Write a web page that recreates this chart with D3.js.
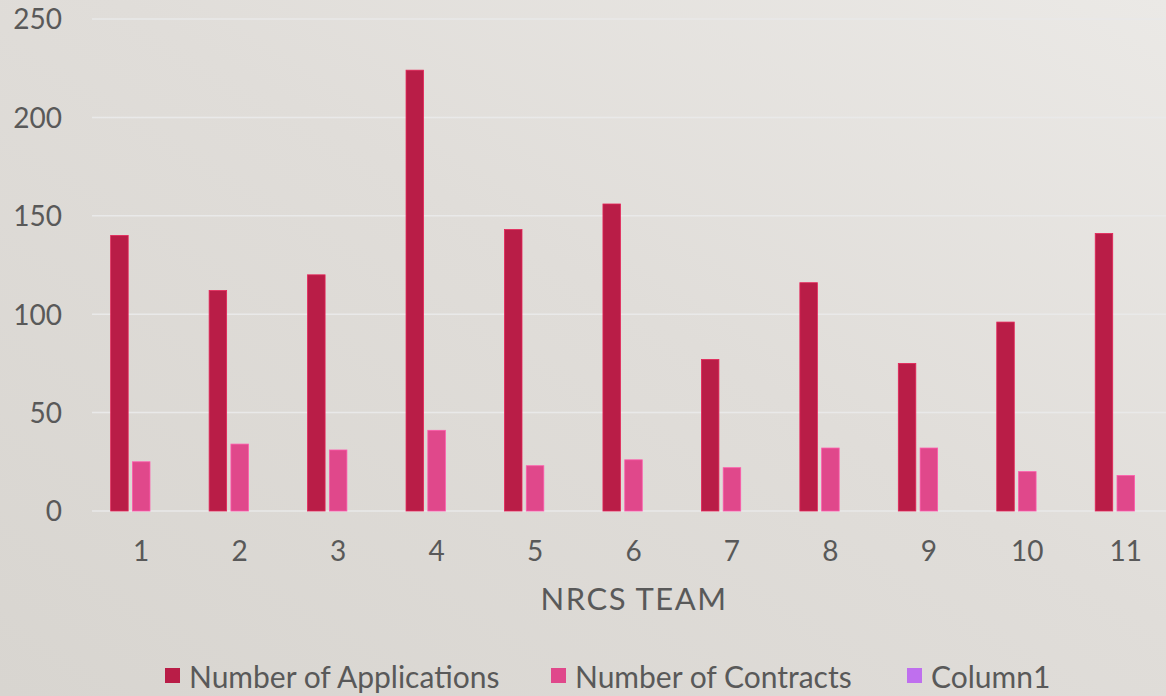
<!DOCTYPE html>
<html><head><meta charset="utf-8">
<script src="https://cdn.jsdelivr.net/npm/d3@7"></script>
<style>
html,body{margin:0;padding:0;overflow:hidden;}
svg{display:block;font-family:Lato, "Open Sans", sans-serif;}
</style></head>
<body>
<svg id="c" width="1166" height="696"></svg>
<script>
const categories = ["1","2","3","4","5","6","7","8","9","10","11"];
const seriesNames = ["Number of Applications","Number of Contracts","Column1"];
const applications = [140,112,120,224,143,156,77,116,75,96,141];
const contracts = [25,34,31,41,23,26,22,32,32,20,18];
const column1 = [0,0,0,0,0,0,0,0,0,0,0];
const yTicks = [0,50,100,150,200,250];
const colors = ["#B91D47","#E0488B","#BF6FEE"];

(function(){
const W = 1166, H = 696;
const svg = d3.select("#c");
const defs = svg.append("defs");
const g1 = defs.append("linearGradient").attr("id","bg").attr("x1","0").attr("y1","1").attr("x2","1").attr("y2","0");
g1.append("stop").attr("offset","0").attr("stop-color","#d8d5d0");
g1.append("stop").attr("offset","0.55").attr("stop-color","#e0ddd9");
g1.append("stop").attr("offset","1").attr("stop-color","#ebe9e6");
svg.append("rect").attr("width",W).attr("height",H).attr("fill","url(#bg)");

const pl = 92, pr = 1175, pt = 19, pb = 511;
const x = d3.scaleBand().domain(categories).range([pl,pr]).paddingInner(0).paddingOuter(0);
const y = d3.scaleLinear().domain([0,250]).range([pb,pt]);
const barW = 17.5, step = 21.8;
const seriesData = [applications, contracts, column1];

// grid
svg.append("g").selectAll("line").data(yTicks).join("line")
  .attr("x1",pl).attr("x2",W).attr("y1",d=>y(d)).attr("y2",d=>y(d))
  .attr("stroke","#e9e9e9").attr("stroke-width",1.5);

// y axis labels
const yAxis = d3.axisLeft(y).tickValues(yTicks).tickSize(0).tickPadding(0);
const ya = svg.append("g").attr("transform",`translate(62,0)`).call(yAxis);
ya.select(".domain").remove();
ya.selectAll("text").attr("font-size",28).attr("fill","#595959").attr("font-family","Lato").attr("dy","0.35em");

// bars
seriesData.forEach((vals,si)=>{
  svg.append("g").selectAll("rect").data(vals).join("rect")
    .attr("x",(d,i)=>x(categories[i]) + x.bandwidth()/2 + (si-1)*step - barW/2)
    .attr("y",d=>y(d))
    .attr("width",barW)
    .attr("height",d=>pb-y(d))
    .attr("fill",colors[si])
    .attr("stroke", d3.color(colors[si]).brighter(0.6))
    .attr("stroke-width", 0.8);
});

// x axis labels
const xAxis = d3.axisBottom(x).tickSize(0).tickPadding(0);
const xa = svg.append("g").attr("transform",`translate(0,${pb+40})`).call(xAxis);
xa.select(".domain").remove();
xa.selectAll("text").attr("font-size",28).attr("fill","#595959").attr("font-family","Lato").attr("dy","0.35em");

svg.append("text").attr("x",634).attr("y",610).attr("text-anchor","middle")
  .attr("font-size",31).attr("letter-spacing",1.5).attr("fill","#595959").text("NRCS TEAM");

// legend
const legendX = [165, 551, 907];
const lg = svg.append("g");
seriesNames.forEach((n,i)=>{
  lg.append("rect").attr("x",legendX[i]).attr("y",668).attr("width",15).attr("height",15).attr("fill",colors[i]);
  lg.append("text").attr("x",legendX[i]+24).attr("y",688).attr("font-size",30).attr("fill","#595959").text(n);
});
})();
</script>
</body></html>
